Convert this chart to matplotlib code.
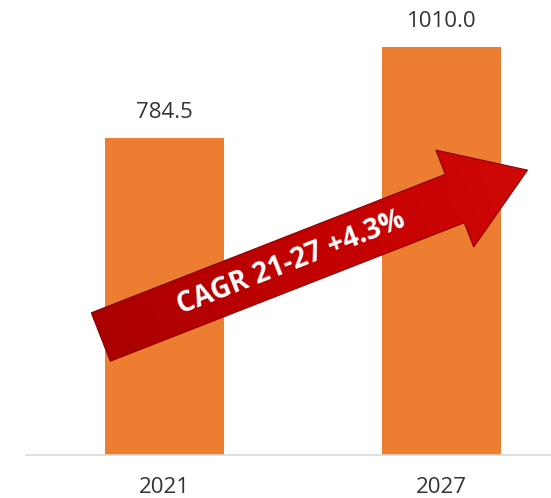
import numpy as np
import matplotlib
matplotlib.use('Agg')
import matplotlib.pyplot as plt
import matplotlib.transforms as mtransforms
from matplotlib.patches import Polygon
from matplotlib.colors import LinearSegmentedColormap

# data
years = ['2021', '2027']
values = [784.5, 1010.0]
value_labels = ['784.5', '1010.0']
cagr_text = 'CAGR 21-27 +4.3%'

plt.rcParams['font.family'] = ['Open Sans', 'DejaVu Sans']

fig = plt.figure(figsize=(5.51, 4.98), dpi=100)
ax = fig.add_axes([26 / 551, 43 / 498, 1 - 26 / 551, 455 / 498])

x = np.arange(len(years))
ax.bar(x, values, width=0.43, color='#ED7D31', zorder=2)
ax.set_xlim(-0.5, 1.395)
ax.set_ylim(0, 1126)

for s in ['top', 'left', 'right']:
    ax.spines[s].set_visible(False)
ax.spines['bottom'].set_color('#d9d9d9')
ax.spines['bottom'].set_linewidth(1.2)
ax.set_yticks([])
ax.set_xticks(x, years)
ax.tick_params(axis='x', length=0, pad=16, labelsize=16, labelcolor='#333333')

for xi, v, lab in zip(x, values, value_labels):
    ax.annotate(lab, (xi, v), xytext=(0, 18), textcoords='offset points',
                ha='center', va='center', fontsize=16, color='#333333')

# CAGR arrow, built in display pixels from two anchor points in data space
tail = ax.transData.transform((-0.23, 292))
tip = ax.transData.transform((1.31, 705))
u = (tip - tail) / np.hypot(*(tip - tail))
n = np.array([-u[1], u[0]])
shaft_hw, head_hw, head_len = 26, 52, 78
neck = tip - u * head_len
pts = [tail - n * shaft_hw, neck - n * shaft_hw, neck - n * head_hw, tip,
       neck + n * head_hw, neck + n * shaft_hw, tail + n * shaft_hw]
ident = mtransforms.IdentityTransform()
arrow = Polygon(pts, closed=True, transform=ident, facecolor='none',
                edgecolor='#8a0000', lw=0.8, zorder=4)
ax.add_patch(arrow)

# gradient fill clipped to the arrow
pts = np.array(pts)
x0, y0 = pts.min(axis=0)
x1, y1 = pts.max(axis=0)
gx, gy = np.meshgrid(np.linspace(x0, x1, 300), np.linspace(y0, y1, 300))
proj = (gx - tail[0]) * u[0] + (gy - tail[1]) * u[1]
proj = (proj - proj.min()) / (proj.max() - proj.min())
cmap = LinearSegmentedColormap.from_list('red', ['#a80000', '#c20000', '#d00808'])
inv = ax.transData.inverted()
dx0, dy0 = inv.transform((x0, y0))
dx1, dy1 = inv.transform((x1, y1))
im = ax.imshow(proj, origin='lower', extent=(dx0, dx1, dy0, dy1), cmap=cmap,
               aspect='auto', zorder=3, interpolation='bilinear')
im.set_clip_path(arrow)
ax.set_xlim(-0.5, 1.395)
ax.set_ylim(0, 1126)

angle = np.degrees(np.arctan2(u[1], u[0]))
tpos = tail + u * 204
ax.text(tpos[0], tpos[1], cagr_text, transform=ident, rotation=angle,
        rotation_mode='anchor', ha='center', va='center', color='white',
        fontsize=20, fontweight='bold', zorder=5)

fig.savefig('out.png', dpi=100)
